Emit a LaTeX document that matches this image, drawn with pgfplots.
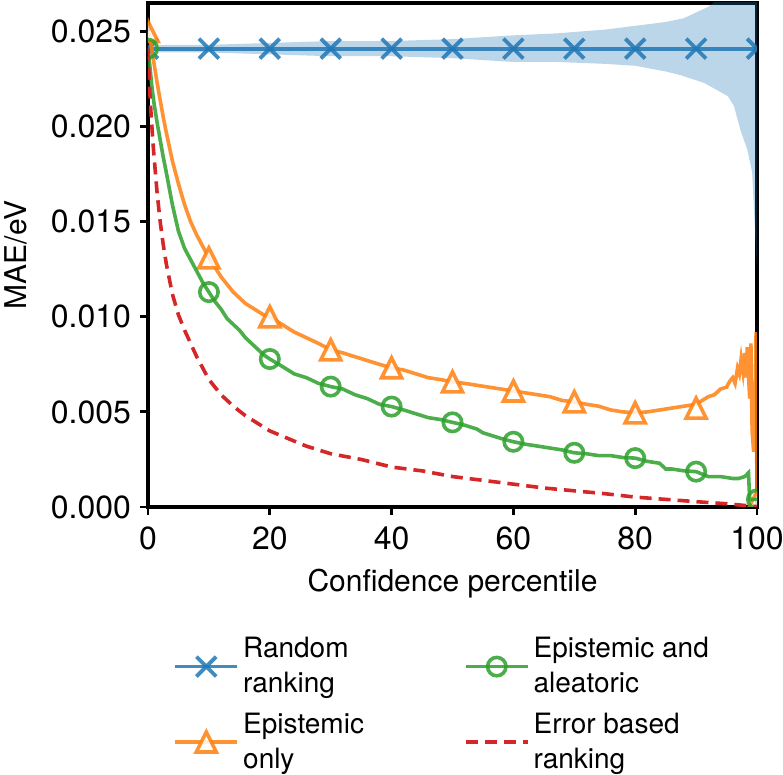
\documentclass[border=0pt]{standalone}
\usepackage{fontspec}
\setmainfont{TeX Gyre Heros}
\usepackage{pgfplots}
\pgfplotsset{compat=1.18}
\usepgfplotslibrary{fillbetween}
\definecolor{tabblue}{RGB}{31,119,180}
\definecolor{taborange}{RGB}{255,127,14}
\definecolor{tabgreen}{RGB}{44,160,44}
\definecolor{tabred}{RGB}{214,39,40}

% matplotlib style triangle
\pgfdeclareplotmark{mpltri}{%
  \pgfpathmoveto{\pgfqpoint{0pt}{\pgfplotmarksize}}%
  \pgfpathlineto{\pgfqpoint{-\pgfplotmarksize}{-\pgfplotmarksize}}%
  \pgfpathlineto{\pgfqpoint{\pgfplotmarksize}{-\pgfplotmarksize}}%
  \pgfpathclose\pgfusepathqfillstroke}

\begin{document}
\begin{tikzpicture}
\begin{axis}[
  name=ax,
  at={(0,0)}, anchor=south west,
  scale only axis,
  width=304.5pt, height=252pt,
  xmin=0, xmax=100, ymin=0, ymax=0.0265,
  xtick={0,20,...,100},
  ytick={0,0.005,0.01,0.015,0.02,0.025},
  scaled y ticks=false,
  /pgf/number format/assume math mode=true,
  tick label style={font=\fontsize{16}{18}\selectfont},
  xticklabel style={yshift=-2.5pt},
  yticklabel style={xshift=-1pt, /pgf/number format/.cd, fixed, fixed zerofill, precision=3},
  axis line style={line width=1.8pt},
  tick style={line width=1.4pt, black},
  tick align=outside,
  major tick length=4pt,
  xtick pos=bottom, ytick pos=left,
  xlabel={Confidence percentile},
  ylabel={MAE/eV},
  every axis x label/.style={at={(axis description cs:0.5,0)}, yshift=-38.5pt, anchor=center,
    font=\fontsize{15}{18}\selectfont},
  every axis y label/.style={at={(axis description cs:0,0.5)}, xshift=-66pt, rotate=90, anchor=center,
    font=\fontsize{15}{18}\selectfont},
  clip marker paths=true,
  legend columns=2,
  legend image code/.code={\draw[mark repeat=2,mark phase=2,#1] plot coordinates {(0pt,0pt)(15.5pt,0pt)(31pt,0pt)};},
  legend style={at={(axis description cs:0,0)}, anchor=north west, xshift=12.5pt, yshift=-63pt,
    draw=none, fill=none, inner sep=0pt,
    font=\fontsize{14}{17.5}\selectfont,
    cells={anchor=west, align=left, inner ysep=0pt},
    row sep=4.5pt,
    /tikz/every even column/.append style={column sep=48pt}},
]
% uncertainty band of the random ranking
\addplot[name path=up, draw=none, forget plot] coordinates {
  (0,0.0243)(10,0.0243)(20,0.0244)(30,0.0245)(40,0.0245)(50,0.0246)
  (60,0.0248)(67,0.0249)(75,0.0251)(80,0.0253)(85,0.0255)(88,0.0257)
  (90,0.0260)(92,0.0263)(94,0.0268)(96,0.0275)(98,0.0290)(100,0.0330)
};
\addplot[name path=lo, draw=none, forget plot] coordinates {
  (0,0.0239)(10,0.0239)(20,0.0238)(30,0.0237)(40,0.0237)(50,0.0236)
  (60,0.0234)(67,0.0234)(75,0.0233)(80,0.0232)(85,0.0229)(87.5,0.0227)
  (91.3,0.0223)(93,0.0220)(95.2,0.0216)(96.2,0.0211)(97.3,0.0198)
  (98.4,0.0188)(99.2,0.0176)(99.7,0.0144)(100,0.0125)
};
\addplot[fill=tabblue, fill opacity=0.3, draw=none, forget plot] fill between[of=up and lo];

% random ranking
\addplot[tabblue, opacity=0.85, line width=1.9pt, forget plot,
  mark=x, mark size=7pt, mark options={line width=1.9pt}] coordinates {
  (0,0.0241)(10,0.0241)(20,0.0241)(30,0.0241)(40,0.0241)(50,0.0241)
  (60,0.0241)(70,0.0241)(80,0.0241)(90,0.0241)(100,0.0241)
};

% epistemic only
\addplot[taborange, opacity=0.85, line width=1.8pt, forget plot] coordinates {
  (0,0.0250)(0.3,0.0247)(0.6,0.0241)(1,0.0233)(1.5,0.0223)(2,0.0214)(2.5,0.0205)
  (3,0.0197)(4,0.0182)(5,0.0170)(6,0.0159)(7,0.0150)(8,0.0143)(9,0.0137)
  (10,0.0131)(11,0.0126)(12,0.0121)(13,0.0117)(14,0.0113)(15,0.0110)(16,0.0107)
  (17,0.0105)(18,0.0103)(19,0.0101)(20,0.0100)(22,0.0096)(24,0.0092)(26,0.0089)
  (28,0.0086)(30,0.00826)(32,0.0081)(34,0.0079)(36,0.0077)(38,0.0075)(40,0.00732)
  (42,0.0072)(44,0.0070)(46,0.0068)(48,0.0067)(50,0.00658)(52,0.0065)(54,0.0064)
  (56,0.0063)(58,0.0062)(60,0.0061)(62,0.0060)(64,0.0059)(66,0.0058)(68,0.0056)
  (70,0.00553)(72,0.0054)(74,0.0053)(76,0.0051)(78,0.0050)(80,0.00495)(82,0.0050)
  (84,0.0051)(86,0.0052)(88,0.0053)(90,0.0054)(91,0.0056)(92,0.0058)(93,0.0059)
  (94,0.0062)(95,0.0063)(95.5,0.0066)(96,0.0068)(96.4,0.0065)(96.8,0.0073)
  (97.1,0.0070)(97.4,0.0078)(97.7,0.0071)(98,0.0081)(98.2,0.0068)(98.4,0.0084)
  (98.6,0.0070)(98.8,0.0057)(99.0,0.0086)(99.2,0.0040)(99.45,0.0029)(99.7,0.0050)
  (99.85,0.0092)(100,0.0003)
};
\addplot[taborange, opacity=0.85, only marks, forget plot, mark=mpltri, mark size=5pt,
  mark options={fill=white, line width=1.8pt}] coordinates {
  (0,0.0250)(10,0.0131)(20,0.0100)(30,0.00826)(40,0.00732)(50,0.00658)
  (60,0.0061)(70,0.00553)(80,0.00495)(90,0.0052)(100,0.0003)
};

% epistemic and aleatoric
\addplot[tabgreen, opacity=0.85, line width=1.8pt, forget plot] coordinates {
  (0,0.0241)(0.3,0.0232)(0.6,0.0222)(1,0.0212)(1.5,0.0202)(2,0.0193)(2.5,0.0184)
  (3,0.0176)(4,0.0159)(5,0.0145)(6,0.0136)(7,0.0130)(8,0.0124)(9,0.0118)
  (10,0.0113)(11,0.0108)(12,0.0104)(13,0.0099)(14,0.0096)(15,0.0093)(16,0.0089)
  (17,0.0086)(18,0.0083)(19,0.0080)(20,0.00778)(22,0.0074)(24,0.0070)(26,0.0068)
  (28,0.0065)(30,0.00633)(32,0.0062)(34,0.0059)(36,0.0057)(38,0.0054)(40,0.00528)
  (42,0.0051)(44,0.0049)(46,0.0047)(48,0.0046)(50,0.00445)(52,0.0043)(54,0.0041)
  (55,0.0039)(56,0.0038)(58,0.0036)(60,0.00343)(62,0.0033)(64,0.0032)(66,0.0031)
  (68,0.0030)(70,0.00285)(72,0.0028)(74,0.0027)(76,0.0027)(78,0.0026)(80,0.00257)
  (82,0.0024)(84,0.0023)(85,0.0020)(86,0.0020)(88,0.0019)(90,0.00186)(92,0.0016)
  (94,0.0016)(96,0.0015)(97,0.0015)(98,0.0016)(98.6,0.0018)(98.8,0.0004)(100,0.0004)
};
\addplot[tabgreen, opacity=0.85, only marks, forget plot, mark=o, mark size=4.6pt,
  mark options={fill=white, line width=1.8pt}] coordinates {
  (0,0.0241)(10,0.0113)(20,0.00778)(30,0.00633)(40,0.00528)(50,0.00445)
  (60,0.00343)(70,0.00285)(80,0.00257)(90,0.00186)(100,0.0004)
};

% error based ranking
\addplot[tabred, line width=1.8pt, dash pattern=on 6pt off 3.5pt, forget plot] coordinates {
  (0,0.0241)(0.2,0.0225)(0.4,0.0212)(0.6,0.0202)(0.8,0.0192)(1,0.0184)(1.5,0.0165)
  (2,0.0150)(2.5,0.0138)(3,0.0128)(3.5,0.0120)(4,0.0112)(5,0.0101)(6,0.0093)
  (7,0.0086)(8,0.0079)(9,0.0073)(10,0.0067)(12,0.0059)(14,0.0053)(16,0.0048)
  (18,0.0044)(20,0.0040)(23,0.0036)(26,0.0032)(30,0.0028)(35,0.0025)(40,0.0021)
  (45,0.0019)(50,0.0016)(55,0.0014)(60,0.0012)(65,0.0010)(70,0.00085)(75,0.0007)
  (80,0.00052)(85,0.0004)(90,0.00028)(95,0.00017)(100,0.00002)
};

% legend, filled row by row
\addlegendimage{tabblue, opacity=0.85, line width=1.9pt, mark=x, mark size=7pt}
\addlegendentry{Random\\ranking}
\addlegendimage{tabgreen, opacity=0.85, line width=1.8pt, mark=o, mark size=4.6pt, mark options={fill=white}}
\addlegendentry{Epistemic and\\aleatoric}
\addlegendimage{taborange, opacity=0.85, line width=1.8pt, mark=mpltri, mark size=5pt, mark options={fill=white}}
\addlegendentry{Epistemic\\only}
\addlegendimage{tabred, line width=1.8pt, dash pattern=on 6pt off 3.5pt}
\addlegendentry{Error based\\ranking}
\end{axis}
\pgfresetboundingbox
\path[use as bounding box] ([xshift=-74pt,yshift=-134pt]ax.south west) rectangle ([xshift=13pt,yshift=1.5pt]ax.north east);
\end{tikzpicture}
\end{document}
